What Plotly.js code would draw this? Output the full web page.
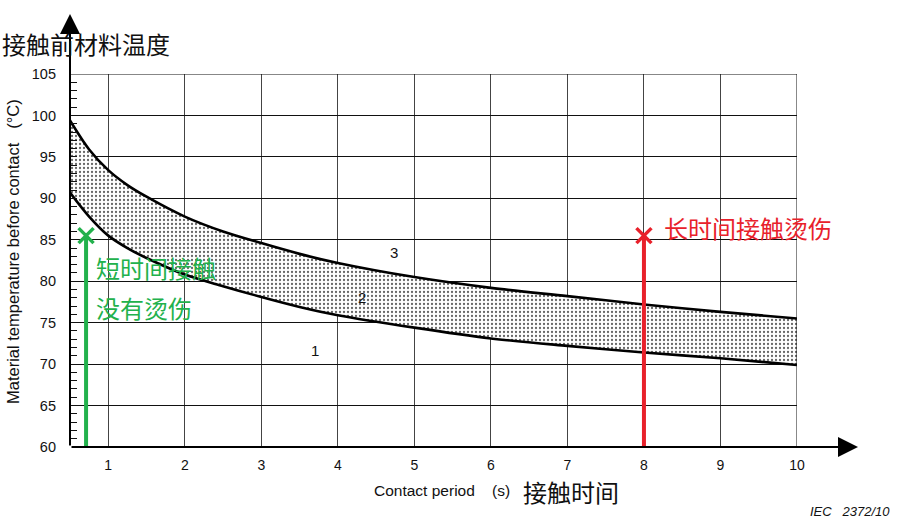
<!DOCTYPE html>
<html>
<head>
<meta charset="utf-8">
<script src="https://cdn.plot.ly/plotly-3.0.1.min.js"></script>
<style>html,body{margin:0;padding:0;background:#fff;}#chart{width:908px;height:523px;}</style>
</head>
<body>
<div id="chart"></div>
<script>
// ---- data ----
const contactTime = [0.5, 0.75, 1, 1.25, 1.5, 2, 2.5, 3, 3.5, 4, 5, 6, 7, 8, 9, 10];
const upperCurve = [99.4, 95.9, 93.4, 91.6, 90.2, 87.8, 86.0, 84.6, 83.3, 82.2, 80.5, 79.2, 78.2, 77.2, 76.3, 75.5];
const lowerCurve = [90.7, 87.8, 85.5, 84.0, 82.8, 80.8, 79.4, 78.1, 76.9, 75.9, 74.4, 73.1, 72.2, 71.4, 70.7, 69.9];
const xTicks = [1, 2, 3, 4, 5, 6, 7, 8, 9, 10];
const yTicks = [60, 65, 70, 75, 80, 85, 90, 95, 100, 105];
const shortContact = {x: [0.71, 0.71], y: [60, 85.5]};
const longContact = {x: [8, 8], y: [60, 85.5]};
const zoneLabels = {text: ["1", "2", "3"], x: [3.70, 4.31, 4.74], y: [71.7, 78.0, 83.5]};

const GREEN = '#22b14c', RED = '#e8212b';
const CJK = '"Noto Sans CJK SC", "Noto Sans", sans-serif';
const ARIAL = '"Liberation Sans", Arial, sans-serif';

const traces = [
  {x: contactTime, y: lowerCurve, mode: 'lines', line: {color: '#000', width: 2.6, shape: 'spline', smoothing: 0.9}, hoverinfo: 'skip'},
  {x: contactTime, y: upperCurve, mode: 'lines', line: {color: '#000', width: 2.6, shape: 'spline', smoothing: 0.9},
   fill: 'tonexty', fillcolor: 'rgba(0,0,0,0)',
   fillpattern: {shape: '.', fgcolor: '#666', bgcolor: '#fff', size: 4, solidity: 0.25}, hoverinfo: 'skip'},
  {x: shortContact.x, y: shortContact.y, mode: 'lines', line: {color: GREEN, width: 4}, cliponaxis: false},
  {x: [shortContact.x[1]], y: [shortContact.y[1]], mode: 'markers', cliponaxis: false,
   marker: {symbol: 'x-thin', size: 15, line: {color: GREEN, width: 3.5}}},
  {x: longContact.x, y: longContact.y, mode: 'lines', line: {color: RED, width: 4}, cliponaxis: false},
  {x: [longContact.x[1]], y: [longContact.y[1]], mode: 'markers', cliponaxis: false,
   marker: {symbol: 'x-thin', size: 15, line: {color: RED, width: 3.5}}}
];

// pixel helpers for paper coords (plot area: left 70, right 797, top 74, bottom 447)
const px = v => (v - 70) / 727;
const py = v => (447 - v) / 373;

const annotations = [
  // axis arrows
  {xref: 'paper', yref: 'paper', x: 0, y: py(14), ax: 0, ay: 433, axref: 'pixel', ayref: 'pixel',
   text: '', showarrow: true, arrowhead: 2, arrowsize: 2, arrowwidth: 2, arrowcolor: '#000', standoff: 0},
  {xref: 'paper', yref: 'paper', x: px(858), y: 0, ax: -788, ay: 0, axref: 'pixel', ayref: 'pixel',
   text: '', showarrow: true, arrowhead: 2, arrowsize: 2, arrowwidth: 2, arrowcolor: '#000', standoff: 0},
  // titles
  {xref: 'paper', yref: 'paper', x: px(0), y: py(44), xanchor: 'left', yanchor: 'middle', showarrow: false,
   text: '接触前材料温度', font: {family: CJK, size: 24, color: '#111'}},
  {xref: 'paper', yref: 'paper', x: px(13), y: py(252), xanchor: 'center', yanchor: 'middle', showarrow: false,
   textangle: -90, text: 'Material temperature before contact&nbsp;&nbsp;&nbsp;(°C)', font: {family: ARIAL, size: 16.5, color: '#111'}},
  {xref: 'paper', yref: 'paper', x: px(372), y: py(490), xanchor: 'left', yanchor: 'middle', showarrow: false,
   text: 'Contact period&nbsp;&nbsp;&nbsp;&nbsp;(s)', font: {family: ARIAL, size: 15.5, color: '#111'}},
  {xref: 'paper', yref: 'paper', x: px(521), y: py(491), xanchor: 'left', yanchor: 'middle', showarrow: false,
   text: '接触时间', font: {family: CJK, size: 24, color: '#111'}},
  {xref: 'paper', yref: 'paper', x: px(892), y: py(511), xanchor: 'right', yanchor: 'middle', showarrow: false,
   text: '<i>IEC&nbsp;&nbsp;&nbsp;2372/10</i>', font: {family: ARIAL, size: 13, color: '#111'}},
  // green / red labels
  {xref: 'x', yref: 'y', x: 0.81, y: 81.6, xanchor: 'left', yanchor: 'middle', showarrow: false,
   text: '短时间接触', font: {family: CJK, size: 24, color: GREEN}},
  {xref: 'x', yref: 'y', x: 0.81, y: 76.8, xanchor: 'left', yanchor: 'middle', showarrow: false,
   text: '没有烫伤', font: {family: CJK, size: 24, color: GREEN}},
  {xref: 'x', yref: 'y', x: 8.23, y: 86.45, xanchor: 'left', yanchor: 'middle', showarrow: false,
   text: '长时间接触烫伤', font: {family: CJK, size: 24, color: RED}}
];
zoneLabels.text.forEach((t, i) => annotations.push({
  xref: 'x', yref: 'y', x: zoneLabels.x[i], y: zoneLabels.y[i], showarrow: false,
  text: t, font: {family: ARIAL, size: 15, color: '#111'}
}));

const layout = {
  width: 908, height: 523,
  margin: {l: 70, r: 111, t: 74, b: 76, pad: 0},
  paper_bgcolor: '#fff', plot_bgcolor: '#fff',
  showlegend: false,
  xaxis: {range: [0.5, 10], tickvals: xTicks, ticktext: xTicks.map(String),
          showgrid: true, gridcolor: '#444', gridwidth: 1, zeroline: false, showline: false,
          ticks: '', ticklabelstandoff: 8, tickfont: {family: ARIAL, size: 14, color: '#111'}, fixedrange: true},
  yaxis: {range: [60, 105], tickvals: yTicks, ticktext: yTicks.map(String),
          showgrid: true, gridcolor: '#111', gridwidth: 1, zeroline: false, showline: false,
          ticks: 'inside', ticklen: 7, tickcolor: '#111', ticklabelstandoff: 13,
          minor: {dtick: 1, tick0: 60, ticks: 'inside', ticklen: 7, tickcolor: '#111', showgrid: false},
          tickfont: {family: ARIAL, size: 14.5, color: '#111'}, fixedrange: true},
  shapes: [
    {type: 'line', xref: 'x', yref: 'y', x0: 0.5, x1: 10, y0: 105, y1: 105, line: {color: '#111', width: 1}},
    {type: 'line', xref: 'x', yref: 'y', x0: 10, x1: 10, y0: 60, y1: 105, line: {color: '#111', width: 1}}
  ],
  annotations: annotations
};

Plotly.newPlot('chart', traces, layout, {staticPlot: true, displayModeBar: false});
</script>
</body>
</html>
